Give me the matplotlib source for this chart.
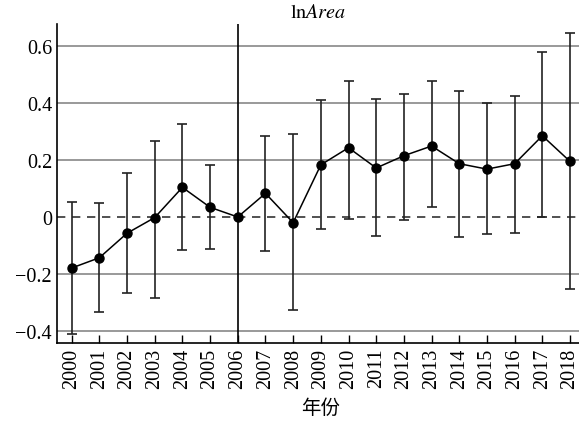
import numpy as np
import matplotlib
matplotlib.use('Agg')
from matplotlib import pyplot as plt

years = list(range(2000, 2019))
coef = [-0.179, -0.143, -0.057, -0.002, 0.104, 0.034, 0.0, 0.083, -0.020, 0.183,
        0.243, 0.172, 0.215, 0.249, 0.187, 0.168, 0.187, 0.285, 0.195]
upper = [0.053, 0.049, 0.154, 0.267, 0.327, 0.183, 0.0, 0.285, 0.292, 0.412,
         0.476, 0.414, 0.432, 0.476, 0.443, 0.401, 0.426, 0.578, 0.645]
lower = [-0.410, -0.333, -0.268, -0.284, -0.115, -0.111, 0.0, -0.118, -0.327, -0.041,
         -0.006, -0.067, -0.009, 0.034, -0.069, -0.060, -0.055, -0.001, -0.253]
yticks = [-0.4, -0.2, 0, 0.2, 0.4, 0.6]
ytick_labels = ['\u22120.4', '\u22120.2', '0', '0.2', '0.4', '0.6']
base_year = 2006

plt.rcParams['font.family'] = ['Liberation Serif', 'Noto Sans CJK SC', 'DejaVu Sans']
plt.rcParams['mathtext.fontset'] = 'stix'

fig = plt.figure(figsize=(5.79, 4.31), dpi=100)
ax = fig.add_axes([0.0984, 0.2019, 0.91, 0.740])

coef_a = np.array(coef)
yerr = np.array([coef_a - np.array(lower), np.array(upper) - coef_a])
mask = np.array(years) != base_year

# 网格线
for t in yticks:
    if t == 0:
        ax.axhline(0, color='#333333', lw=1.2, ls=(0, (5, 4)), zorder=1)
    else:
        ax.axhline(t, color='#888888', lw=1.2, zorder=1)
ax.axvline(base_year, color='black', lw=1.2, zorder=2)

yrs = np.array(years)
ax.errorbar(yrs[mask], coef_a[mask], yerr=yerr[:, mask], fmt='none', ecolor='#222222',
            elinewidth=1.2, capsize=3.5, capthick=1.2, zorder=3)
ax.plot(yrs, coef_a, color='black', lw=1.1, marker='o', ms=6.5, zorder=4)

ax.set_xlim(1999.47, 2018.5)
ax.set_ylim(-0.442, 0.677)
ax.set_xticks(years)
ax.set_xticklabels([str(y) for y in years], rotation=90, fontsize=14.5)
ax.set_yticks(yticks)
ax.set_yticklabels(ytick_labels, fontsize=14.5)
ax.tick_params(axis='x', direction='in', length=6, width=1)
ax.tick_params(axis='y', direction='in', length=0)
for s in ['top', 'right']:
    ax.spines[s].set_visible(False)
ax.spines['left'].set_linewidth(1.2)
ax.spines['bottom'].set_linewidth(1.2)

fig.text(0.55, 0.968, r'$\mathrm{ln}\mathit{Area}$', ha='center', va='center', fontsize=14.5)
ax.set_xlabel('年份', fontsize=14, family=['Noto Sans CJK SC'], labelpad=6)

fig.savefig('out.png', dpi=100)
